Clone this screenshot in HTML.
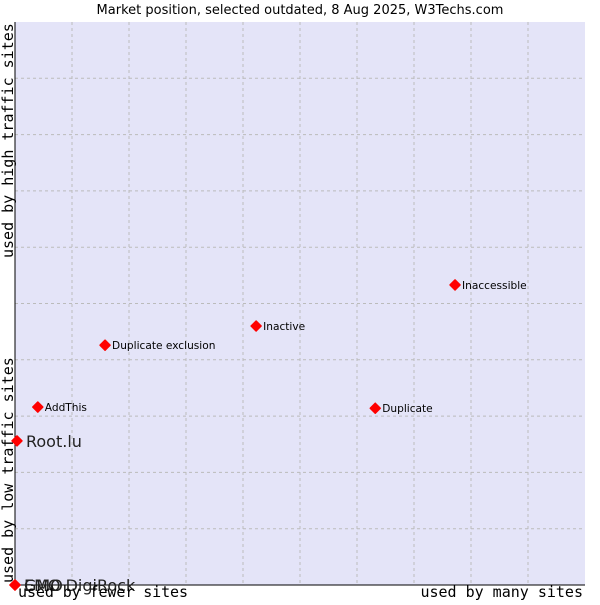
<!DOCTYPE html>
<html><head><meta charset="utf-8"><style>
body{margin:0;background:#fff;width:600px;height:600px;overflow:hidden}
svg{font-family:"DejaVu Sans","Liberation Sans",sans-serif}
</style></head><body>
<svg width="600" height="600">
<text x="300" y="14" text-anchor="middle" font-size="13" fill="#000">Market position, selected outdated, 8 Aug 2025, W3Techs.com</text>
<rect x="15" y="22" width="570" height="563" fill="#e4e4f8"/>
<g id="grid"></g>
<line x1="15" y1="22" x2="15" y2="585" stroke="#000"/>
<line x1="15" y1="585" x2="585" y2="585" stroke="#000"/>
<g id="pts"></g>
<text x="18" y="597" font-family="DejaVu Sans Mono,Liberation Mono,monospace" font-size="15" textLength="170">used by fewer sites</text>
<text x="583" y="597" text-anchor="end" font-family="DejaVu Sans Mono,Liberation Mono,monospace" font-size="15">used by many sites</text>
<text transform="translate(13,583) rotate(-90)" font-family="DejaVu Sans Mono,Liberation Mono,monospace" font-size="15">used by low traffic sites</text>
<text transform="translate(13,258) rotate(-90)" font-family="DejaVu Sans Mono,Liberation Mono,monospace" font-size="15">used by high traffic sites</text>
</svg>
<script>
const names=["AddThis","Duplicate exclusion","Inactive","Inaccessible","Duplicate","Root.lu","GMO","EMO DigiRock"];
const xs=[0.040,0.158,0.423,0.772,0.632,0.0035,0,0];
const ys=[0.316,0.426,0.460,0.533,0.314,0.256,0,0];
const big=[0,0,0,0,0,1,1,1];
const L=15,T=22,W=570,H=563;
const sx=v=>L+v*W, sy=v=>T+H-v*H;
const NS="http://www.w3.org/2000/svg";
const g=document.getElementById('grid');
for(let i=1;i<10;i++){
 const a=document.createElementNS(NS,'line');
 
 
 a.setAttribute('x1',sx(i/10));a.setAttribute('x2',sx(i/10));a.setAttribute('y1',T);a.setAttribute('y2',T+H);
 a.setAttribute('stroke','#bbb');a.setAttribute('stroke-dasharray','3,3');g.appendChild(a);
 const b=document.createElementNS(NS,'line');
 
 
 b.setAttribute('y1',sy(i/10));b.setAttribute('y2',sy(i/10));b.setAttribute('x1',L);b.setAttribute('x2',L+W);
 b.setAttribute('stroke','#bbb');b.setAttribute('stroke-dasharray','3,3');g.appendChild(b);
}
const p=document.getElementById('pts');
names.forEach((n,i)=>{
 const x=sx(xs[i]),y=sy(ys[i]);
 const d=document.createElementNS(NS,'path');
 
 
 d.setAttribute('d',`M${x-5},${y}L${x},${y-5}L${x+5},${y}L${x},${y+5}Z`);
 d.setAttribute('fill','#f00');d.setAttribute('stroke','#f00');d.setAttribute('stroke-linejoin','round');d.setAttribute('stroke-width','1.5');p.appendChild(d);
 const t=document.createElementNS(NS,'text');
 
 
 t.setAttribute('x',x+(big[i]?9:7));t.setAttribute('y',y+(big[i]?6:4));
 t.setAttribute('font-size',big[i]?16:10.6);
 t.setAttribute('fill',big[i]?'#222':'#000');
 t.textContent=n;p.appendChild(t);
});
</script>
</body></html>
